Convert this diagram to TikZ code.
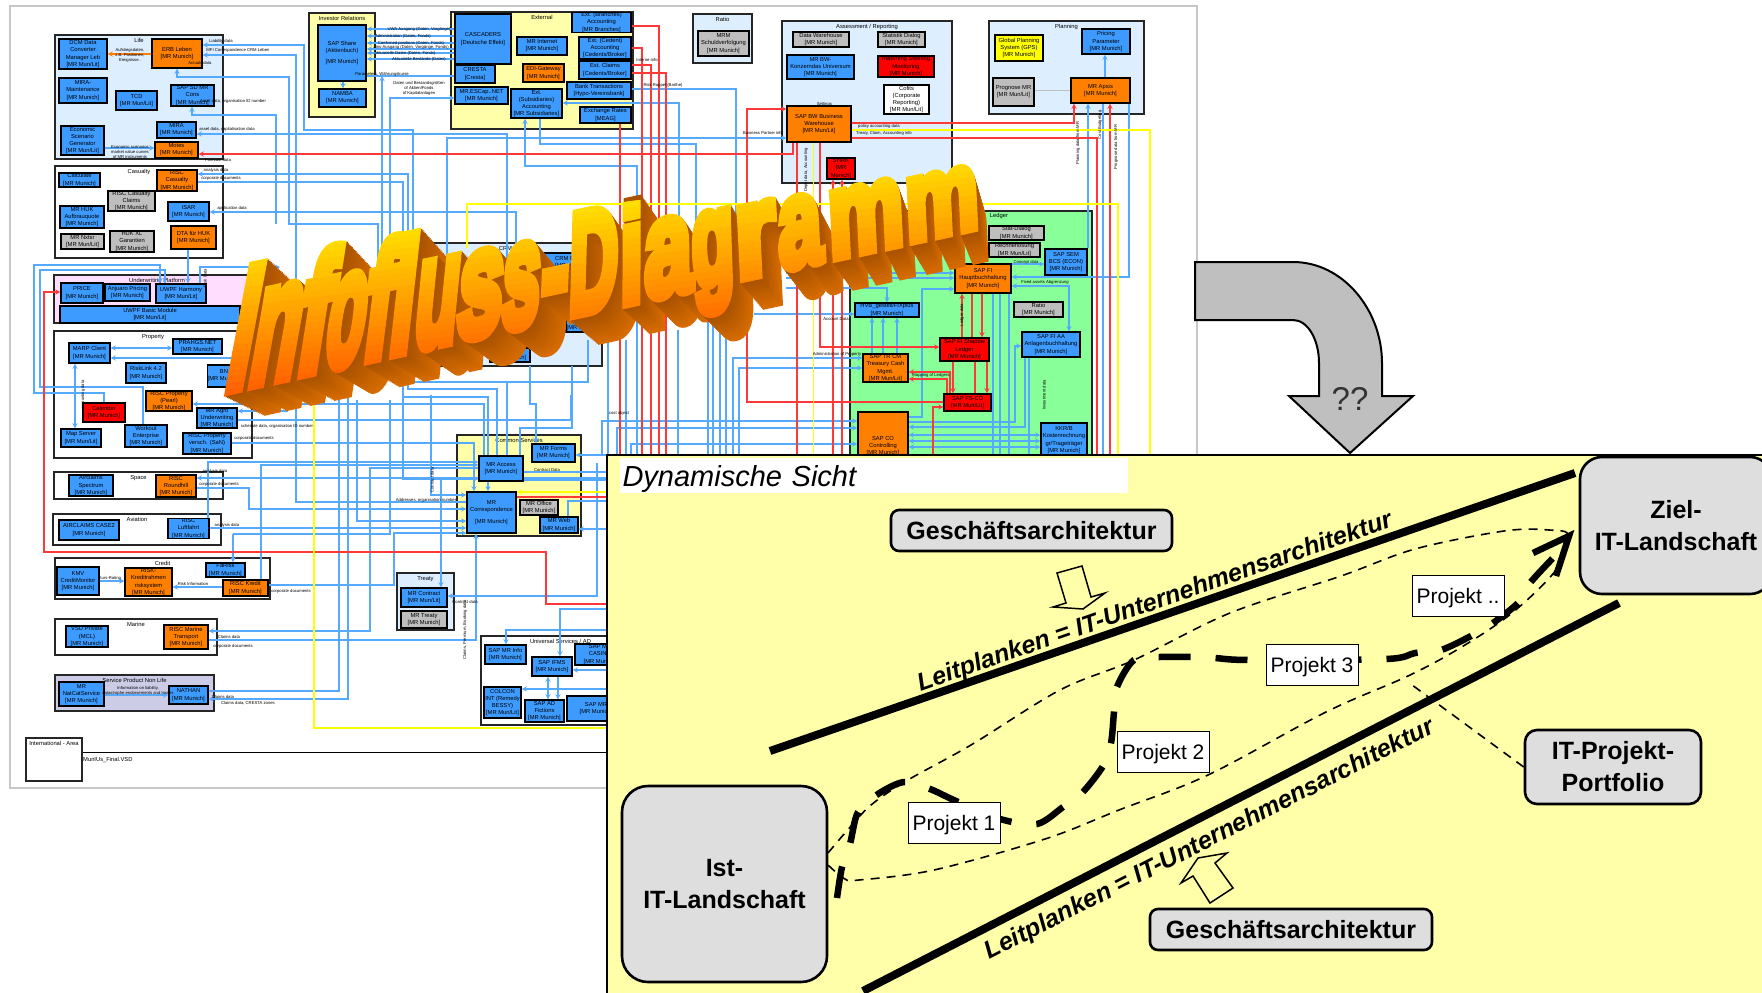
\documentclass[tikz,border=0pt]{standalone}
\usepackage{fontspec}
\setmainfont{Liberation Sans}
\newfontfamily\wordfont[BoldFeatures={FakeBold=8}]{Liberation Sans}
\usetikzlibrary{arrows,arrows.meta}

\definecolor{sysblue}{HTML}{3D9BFF}
\definecolor{sysorange}{HTML}{FF8000}
\definecolor{sysred}{HTML}{FF0000}
\definecolor{sysgray}{HTML}{BEBEBE}
\definecolor{sysyellow}{HTML}{FFFF00}
\definecolor{grpblue}{HTML}{DDEEFF}
\definecolor{grpyellow}{HTML}{FFFFAA}
\definecolor{grppink}{HTML}{FFDDFF}
\definecolor{grpgreen}{HTML}{88FF99}
\definecolor{grpviolet}{HTML}{CCCCE6}
\definecolor{wireblue}{HTML}{55AAFF}
\definecolor{wirered}{HTML}{FF3838}
\definecolor{sidefront}{HTML}{A85200}
\definecolor{sideback}{HTML}{D86C00}
\definecolor{facetop}{HTML}{FFDD00}
\definecolor{facebot}{HTML}{FF5C00}

\pgfdeclarelayer{groups}
\pgfdeclarelayer{wires}
\pgfsetlayers{groups,wires,main}

\tikzset{
    glyph/.style={inner sep=0,outer sep=0,anchor=base west,transform shape,
        font=\wordfont\bfseries\fontsize{100}{100}\selectfont}
}

% letter / left edge / width / advance of the font
\def\wordletters{I/223/23/.278,n/246/47/.611,f/293/30/.333,o/322/38/.611,f/360/27/.333,l/387/23/.278,u/412/43/.611,s/455/45/.556,s/500/38/.556,-/540/27/.333,D/568/49/.722,i/620/23/.278,a/645/47/.556,g/693/42/.611,r/737/40/.389,a/780/43/.556,m/830/75/.889,m/907/73/.889}

\newcommand{\wordlayer}[3]{%
    \foreach \ch/\lx/\lw/\la [count=\li] in \wordletters {
        \pgfmathsetmacro\lsz{(175-.089*(\lx-223))/100*(1-.1*#1)}
        \pgfmathsetmacro\lsx{\lw/(\la*100)*(1-.1*#1)}
        \pgfmathsetmacro\lsb{\lsx*.216}
        \pgfmathsetmacro\lsl{max(.19*(1-(\lx-223)/400),-.05)*\lsz}
        \pgfmathsetmacro\ltx{\lx+#1*(40-(\lx-223)/752*25)}
        \pgfmathsetmacro\lty{390-.216*(\lx-223)+#1*(20+(\lx-223)/752*10)}
        \node[glyph,text=#2,cm={\lsx,\lsb,\lsl,\lsz,(\ltx,\lty)}] (g#3-\li) at (0,0) {\ch};
    }%
}

\newcommand{\sysbox}[7]{%
    \pgfmathsetmacro\bw{#5-#3}\pgfmathsetmacro\bh{#6-#4}
    \node[#1,minimum width=\bw pt,minimum height=\bh pt] (#2) at ({(#3+#5)/2},{(#4+#6)/2}) {#7};
}
\newcommand{\groupbox}[7]{%
    \pgfmathsetmacro\bw{#5-#3}\pgfmathsetmacro\bh{#6-#4}
    \node[grp,fill=#1,minimum width=\bw pt,minimum height=\bh pt,
        label={[name=#2-title,grptitle]north:#7}] (#2) at ({(#3+#5)/2},{(#4+#6)/2}) {};
}

\begin{document}
\begin{tikzpicture}[
        x=1pt,y=-1pt,
        >=stealth, % arrow head style
        font=\fontsize{5.8}{7.2}\selectfont]

        \tikzset{
            sys/.style={draw=black,line width=1.3pt,inner sep=0,align=center,text=black},
            boxblue/.style={sys,fill=sysblue},
            boxorange/.style={sys,fill=sysorange},
            boxred/.style={sys,fill=sysred},
            boxgray/.style={sys,fill=sysgray},
            boxyellow/.style={sys,fill=sysyellow},
            boxwhite/.style={sys,fill=white},
            grp/.style={draw=black!85,line width=1.2pt,inner sep=0},
            grptitle/.style={inner sep=0,yshift=-3.5pt,anchor=north,font=\fontsize{5.8}{7}\selectfont},
            wire/.style={draw=wireblue,line width=1.3pt},
            redwire/.style={draw=wirered,line width=1.3pt},
            yelwire/.style={draw=sysyellow,line width=1.3pt},
            lab/.style={inner sep=0,align=center,font=\fontsize{4.2}{5}\selectfont},
            darkbox/.style={draw=black,fill=black!13,line width=2.6pt,rounded corners=#1,align=center,
                font=\bfseries\fontsize{25}{30}\selectfont},
            darkbox/.default=8pt,
            project/.style={draw=black,fill=white,line width=.8pt,inner sep=0,text height=17pt,text depth=2pt,
                minimum width=92pt,minimum height=41pt,font=\fontsize{21}{25}\selectfont},
            rail/.style={draw=black,line width=8pt},
            raillabel/.style={inner sep=0,font=\bfseries\itshape\fontsize{25}{30}\selectfont},
            hollow/.style={draw=black,line width=1.5pt,line join=miter}
        }

        \clip (0,0) rectangle (1762,993);

        % groups
        \begin{pgfonlayer}{groups}
        \fill[white] (0,0) rectangle (1762,993);
        \node[draw=black!22,line width=2pt,minimum width=1187pt,minimum height=782pt,inner sep=0] (sheet) at (603.5,397) {};
        \groupbox{grpblue}{life}{55}{35}{223}{159}{Life}
        \groupbox{white}{casualty}{55}{166}{223}{258}{Casualty}
        \groupbox{grppink}{platform}{54}{275}{260}{323}{Underwriting Platform}
        \groupbox{white}{property}{54}{331}{252}{458}{Property}
        \groupbox{white}{space}{54}{472}{223}{499}{Space}
        \groupbox{white}{aviation}{53}{514}{221}{545}{Aviation}
        \groupbox{white}{credit}{55}{558}{270}{599}{Credit}
        \groupbox{white}{marine}{55}{619}{217}{655}{Marine}
        \groupbox{grpviolet}{service}{55}{675}{214}{711}{Service Product Non Life}
        \groupbox{white}{intl}{26}{738}{82}{781}{International - Area}
        \groupbox{grpyellow}{investor}{309}{13}{375}{117}{Investor Relations}
        \groupbox{grpyellow}{external}{451}{12}{633}{129}{External}
        \groupbox{grpblue}{ratio}{693}{14}{752}{63}{Ratio}
        \groupbox{grpblue}{assess}{782}{21}{952}{183}{Assessment / Reporting}
        \groupbox{grpblue}{planning}{989}{21}{1144}{114}{Planning}
        \groupbox{grpgreen}{ledger}{850}{211}{1092}{480}{}
        \groupbox{grpblue}{crm}{433}{243}{602}{366}{CRM - Partner}
        \groupbox{grpyellow}{common}{457}{435}{581}{536}{Common Services}
        \groupbox{grpblue}{treaty}{397}{573}{454}{630}{Treaty}
        \groupbox{white}{univ}{481}{636}{640}{725}{Universal Services / AD}
        \node[inner sep=0] (ledger-name) at (999,216) {Ledger};
        \node[inner sep=0,anchor=west] (vsdname) at (83,760) {MunIUs\_Final.VSD};
        \coordinate (ruleend) at (607,752);
        \draw[black,line width=1pt] (intl.east |- ruleend) -- (ruleend);
        \end{pgfonlayer}

        % the boxes
        \sysbox{boxblue}{dcm}{59}{39}{107}{69}{DCM Data\\Converter\\Manager Leb\\{[MR Mun/Lit]}}
        \sysbox{boxorange}{erb}{152}{39}{202}{68}{ERB Leben\\{[MR Munich]}}
        \sysbox{boxblue}{maint}{59}{78}{107}{103}{MIRA-\\Maintenance\\{[MR Munich]}}
        \sysbox{boxblue}{tcd}{116}{91}{157}{110}{TCD\\{[MR Mun/Lit]}}
        \sysbox{boxblue}{sapsd}{171}{85}{214}{106}{SAP SD MR\\Cons\\{[MR Munich]}}
        \sysbox{boxblue}{econ}{61}{126}{104}{155}{Economic\\Scenario\\Generator\\{[MR Mun/Lit]}}
        \sysbox{boxblue}{mira}{157}{122}{196}{138}{MIRA\\{[MR Munich]}}
        \sysbox{boxorange}{motes}{155}{142}{198}{158}{Motes\\{[MR Munich]}}
        \sysbox{boxblue}{calc}{59}{173}{100}{187}{Calculate\\{[MR Munich]}}
        \sysbox{boxorange}{rcas}{157}{170}{197}{191}{RISC\\Casualty\\{[MR Munich]}}
        \sysbox{boxgray}{rcl}{108}{191}{155}{211}{RISC Casualty\\Claims\\{[MR Munich]}}
        \sysbox{boxblue}{isar}{168}{202}{209}{221}{ISAR\\{[MR Munich]}}
        \sysbox{boxblue}{huk}{60}{206}{104}{228}{MR HUK\\Aufbrauquote\\{[MR Munich]}}
        \sysbox{boxgray}{nxt}{61}{234}{104}{249}{MR Nxtsr\\{[MR Mun/Lit]}}
        \sysbox{boxgray}{hukxl}{110}{231}{154}{252}{HUK XL\\Garantien\\{[MR Munich]}}
        \sysbox{boxorange}{dta}{171}{226}{216}{249}{DTA f\"ur HUK\\{[MR Munich]}}
        \sysbox{boxblue}{price}{61}{283}{103}{303}{PRICE\\{[MR Munich]}}
        \sysbox{boxblue}{anj}{105}{284}{150}{301}{Anjuaro Pricing\\{[MR Munich]}}
        \sysbox{boxblue}{harm}{156}{284}{206}{303}{UWPF Harmony\\{[MR Mun/Lit]}}
        \sysbox{boxblue}{basic}{60}{306}{240}{323}{UWPF Basic Module\\{[MR Mun/Lit]}}
        \sysbox{boxblue}{marp}{69}{343}{110}{363}{MARP Client\\{[MR Munich]}}
        \sysbox{boxblue}{prah}{173}{339}{222}{354}{PRAHGS.NET\\{[MR Munich]}}
        \sysbox{boxblue}{risk}{126}{363}{166}{383}{RiskLink 4.2\\{[MR Munich]}}
        \sysbox{boxblue}{bn}{208}{365}{240}{387}{BN\\{[MR Munich]}}
        \sysbox{boxorange}{rprop}{146}{391}{192}{411}{RISC Property\\(Pearl)\\{[MR Munich]}}
        \sysbox{boxblue}{agro}{197}{408}{237}{428}{MR Agro\\Underwriting\\{[MR Munich]}}
        \sysbox{boxred}{cal}{83}{403}{125}{422}{Calender\\{[MR Munich]}}
        \sysbox{boxblue}{map}{61}{429}{101}{447}{Map Server\\{[MR Mun/Lit]}}
        \sysbox{boxblue}{work}{125}{425}{167}{447}{Workout\\Enterprise\\{[MR Munich]}}
        \sysbox{boxblue}{rver}{183}{433}{231}{454}{RISC Property\\versch. (SaN)\\{[MR Munich]}}
        \sysbox{boxblue}{air}{69}{475}{113}{496}{Airclaims\\Spectrum\\{[MR Munich]}}
        \sysbox{boxorange}{rrh}{156}{475}{196}{497}{RISC\\Roundhill\\{[MR Munich]}}
        \sysbox{boxblue}{aclaims}{59}{520}{119}{540}{AIRCLAIMS CASE2\\{[MR Munich]}}
        \sysbox{boxblue}{rluf}{168}{519}{209}{538}{RISC\\Luftfahrt\\{[MR Munich]}}
        \sysbox{boxblue}{kmv}{57}{567}{99}{595}{KMV\\CreditMonitor\\{[MR Munich]}}
        \sysbox{boxorange}{rkr}{125}{568}{172}{596}{RISK-\\Kreditrahmen\\risksystem\\{[MR Munich]}}
        \sysbox{boxblue}{faris}{206}{563}{245}{577}{FaRisk\\{[MR Munich]}}
        \sysbox{boxorange}{rkred}{223}{580}{268}{596}{RISC Kredit\\{[MR Munich]}}
        \sysbox{boxblue}{vsu}{66}{626}{108}{647}{VSU Private\\(MCL)\\{[MR Munich]}}
        \sysbox{boxorange}{rmar}{164}{625}{208}{649}{RISC Marine\\Transport\\{[MR Munich]}}
        \sysbox{boxblue}{natcat}{59}{682}{104}{706}{MR\\NatCatService\\{[MR Munich]}}
        \sysbox{boxblue}{nathan}{169}{686}{208}{704}{NATHAN\\{[MR Munich]}}
        \sysbox{boxblue}{share}{318}{25}{366}{81}{SAP Share\\(Aktienbuch)\\[3pt]{[MR Munich]}}
        \sysbox{boxblue}{namba}{319}{89}{366}{107}{NAMBA\\{[MR Munich]}}
        \sysbox{boxblue}{casc}{455}{14}{511}{64}{CASCADERS\\{[Deutsche Effekt]}}
        \sysbox{boxblue}{exb}{572}{13}{631}{32}{Ext. (Branches)\\Accounting\\{[MR Branches]}}
        \sysbox{boxblue}{mrint}{517}{37}{567}{55}{MR Internet\\{[MR Munich]}}
        \sysbox{boxblue}{exc}{579}{37}{631}{59}{Ext. (Cedent)\\Accounting\\{[Cedents/Broker]}}
        \sysbox{boxblue}{cresta}{455}{65}{495}{83}{CRESTA\\{[Cresta]}}
        \sysbox{boxorange}{edi}{523}{64}{564}{82}{EDI-Gateway\\{[MR Munich]}}
        \sysbox{boxblue}{excl}{579}{61}{631}{79}{Ext. Claims\\{[Cedents/Broker]}}
        \sysbox{boxblue}{bank}{567}{82}{631}{99}{Bank Transactions\\{[Hypo-Vereinsbank]}}
        \sysbox{boxblue}{esc}{455}{87}{508}{104}{MR.ESCap..NET\\{[MR Munich]}}
        \sysbox{boxblue}{exs}{511}{89}{562}{118}{Ext.\\(Subsidiaries)\\Accounting\\{[MR Subsidiaries]}}
        \sysbox{boxblue}{xrate}{580}{107}{631}{123}{Exchange Rates\\{[MEAG]}}
        \sysbox{boxgray}{mrm}{698}{31}{749}{56}{MRM\\Schuldverfolgung\\{[MR Munich]}}
        \sysbox{boxgray}{dw}{793}{32}{849}{47}{Data Warehouse\\{[MR Munich]}}
        \sysbox{boxgray}{stat}{878}{32}{925}{47}{Statistik Dialog\\{[MR Munich]}}
        \sysbox{boxblue}{bwk}{787}{55}{854}{79}{MR BW-\\Konzerndas Universum\\{[MR Munich]}}
        \sysbox{boxred}{rep}{878}{56}{934}{77}{Reporting Steering\\Monitoring\\{[MR Munich]}}
        \sysbox{boxwhite}{cof}{884}{85}{929}{114}{Cofits\\(Corporate\\Reporting)\\{[MR Mun/Lit]}}
        \sysbox{boxorange}{bw}{787}{106}{851}{142}{SAP BW Business\\Warehouse\\{[MR Mun/Lit]}}
        \sysbox{boxred}{shirk}{827}{158}{855}{179}{SHRK\\{[MR}\\{Munich]}}
        \sysbox{boxyellow}{gps}{995}{35}{1043}{61}{Global Planning\\System (GPS)\\{[MR Munich]}}
        \sysbox{boxblue}{pric}{1082}{29}{1130}{54}{Pricing\\Parameter\\{[MR Munich]}}
        \sysbox{boxgray}{prog}{993}{78}{1034}{106}{Prognose MR\\{[MR Mun/Lit]}}
        \sysbox{boxorange}{apsis}{1071}{78}{1130}{103}{MR Apsis\\{[MR Munich]}}
        \sysbox{boxgray}{sdlg}{989}{226}{1044}{240}{Stat-Dialog\\{[MR Munich]}}
        \sysbox{boxgray}{recn}{989}{243}{1040}{257}{Rechnerl\"osung\\{[MR Mun/Lit]}}
        \sysbox{boxblue}{sem}{1045}{249}{1087}{275}{SAP SEM\\BCS (ECON)\\{[MR Munich]}}
        \sysbox{boxorange}{fi}{955}{264}{1011}{293}{SAP FI\\Hauptbuchhaltung\\{[MR Munich]}}
        \sysbox{boxgray}{ratiob}{1014}{302}{1063}{317}{Ratio\\{[MR Munich]}}
        \sysbox{boxblue}{hvb}{855}{303}{919}{317}{HVB\_gestell/FIXplus\\{[MR Munich]}}
        \sysbox{boxblue}{aa}{1022}{332}{1080}{357}{SAP FI AA\\Anlagenbuchhaltung\\{[MR Munich]}}
        \sysbox{boxred}{sl}{940}{338}{989}{361}{SAP FI Shadow\\Ledger\\{[MR Munich]}}
        \sysbox{boxorange}{tr}{863}{354}{908}{382}{SAP TR CM\\Treasury Cash\\Mgmt.\\{[MR Mun/Lit]}}
        \sysbox{boxred}{fscd}{944}{394}{991}{411}{SAP FS-CD\\{[MR Mun/Lit]}}
        \sysbox{boxorange}{co}{858}{412}{908}{480}{SAP CO\\Controlling\\{[MR Munich]}}
        \sysbox{boxblue}{kkr}{1041}{423}{1087}{457}{KKR/B\\Kostenrechnung\\gr/Tragetr\"ager\\{[MR Munich]}}
        \sysbox{boxblue}{crma}{543}{253}{600}{272}{CRM Manag\\{[MR Munich]}}
        \sysbox{boxblue}{crmb}{566}{316}{600}{332}{CRM\\{[MR Munich]}}
        \sysbox{boxblue}{crmc}{490}{348}{530}{362}{MR\\{[MR Munich]}}
        \sysbox{boxblue}{acc}{479}{456}{523}{481}{MR Access\\{[MR Munich]}}
        \sysbox{boxblue}{forms}{532}{444}{575}{462}{MR Forms\\{[MR Munich]}}
        \sysbox{boxblue}{corr}{467}{492}{516}{533}{MR\\Correspondence\\[5pt]{[MR Munich]}}
        \sysbox{boxgray}{off}{520}{500}{558}{515}{MR Office\\{[MR Munich]}}
        \sysbox{boxblue}{web}{540}{517}{578}{533}{MR Web\\{[MR Munich]}}
        \sysbox{boxblue}{ctr}{401}{588}{447}{607}{MR Contract\\{[MR Mun/Lit]}}
        \sysbox{boxgray}{tty}{401}{611}{447}{628}{MR Treaty\\{[MR Munich]}}
        \sysbox{boxblue}{sapinf}{485}{645}{526}{664}{SAP MR Info\\{[MR Munich]}}
        \sysbox{boxblue}{ifms}{532}{657}{572}{676}{SAP IFMS\\{[MR Munich]}}
        \sysbox{boxblue}{casino}{575}{644}{625}{665}{SAP MR\\CASINO\\{[MR Munich]}}
        \sysbox{boxblue}{colcon}{484}{687}{521}{718}{COLCON\\INT (Remedy\\BESSY)\\{[MR Mun/Lit]}}
        \sysbox{boxblue}{adf}{525}{700}{564}{722}{SAP AD\\Fictions\\{[MR Munich]}}
        \sysbox{boxblue}{mrd}{567}{696}{625}{721}{SAP MR\\{[MR Munich]}}

        \begin{pgfonlayer}{wires}
        % blue wires
        \draw[wire,<-] (erb.east |- 0,45) -- (304,45) -- (304,130) -- (413,130) -- (413,382) -- (507,382) -- (507,0 |- acc.north);
        \draw[wire,<-] (erb.east |- 0,55) -- (296,55) -- (296,502) -- (corr.west |- 0,502);
        \draw[wire,<-] (erb.south -| 177,0) -- (177,77) -- (289,77) -- (289,224) -- (378,224) -- (378,260);
        \draw[wire,<-] (sapsd.south -| 192,0) -- (192,115) -- (276,115) -- (276,224);
        \draw[wire,<-] (mira.east |- 0,134) -- (507,134) -- (507,260);
        \draw[wire,->] (447,260) -- (447,138) -- (bw.west |- 0,138);
        \draw[wire,<-] (rcas.east |- 0,174) -- (408,174) -- (408,389) -- (497,389) -- (497,0 |- acc.north);
        \draw[wire,->] (rcas.east |- 0,182) -- (403,182) -- (403,397) -- (488,397) -- (488,0 |- corr.north);
        \draw[wire,<-] (isar.east |- 0,212) -- (516,212) -- (516,260);
        \foreach \wy in {29,36,43,49,53,59}
            \draw[wire,<-] (share.east |- 0,\wy) -- (casc.west |- 0,\wy);
        \draw[wire] (share.east |- 0,76) -- (cresta.west |- 0,76);
        \draw[wire,->] (382,260) -- (382,76);
        \draw[wire,->] (390,260) -- (390,98) -- (esc.west |- 0,98);
        \draw[wire,->] (share.south -| 343,0) -- (namba.north -| 343,0);
        \draw[wire,<-] (exs.south -| 525,0) -- (525,166) -- (637,166) -- (637,455);
        \draw[wire] (exs.south -| 540,0) -- (540,144) -- (696,144) -- (696,230);
        \draw[wire] (bank.east |- 0,89) -- (736,89) -- (736,230);
        \draw[wire,<-] (exs.east |- 0,103) -- (679,103) -- (679,240);
        \foreach \wx/\wy in {678/330,708/310,713/310,720/310,726/310,626/340,608/340}
            \draw[wire] (\wx,\wy) -- (\wx,455);
        \draw[wire,->] (754,314) -- (hvb.west |- 0,314);
        \draw[wire,<-] (tr.west |- 0,358) -- (733,358) -- (733,455);
        \draw[wire,<-] (tr.west |- 0,368) -- (739,368) -- (739,455);
        \draw[wire,->] (602,455) -- (602,421) -- (co.west |- 0,421);
        \draw[wire,->] (617,455) -- (617,428) -- (co.west |- 0,428);
        \draw[wire,->] (631,455) -- (631,444) -- (co.west |- 0,444);
        \draw[wire,<-] (fi.west |- 0,289) -- (922,289) -- (922,417) -- (co.east |- 0,417);
        \draw[wire,->] (786,288) -- (887,288) -- (hvb.north -| 887,0);
        \draw[wire,->] (tr.north -| 872,0) -- (hvb.south -| 872,0);
        \draw[wire,->] (tr.north -| 883,0) -- (hvb.south -| 883,0);
        \draw[wire,->] (tr.north -| 897,0) -- (hvb.south -| 897,0);
        \draw[wire,->] (786,273) -- (fi.west |- 0,273);
        \draw[wire,->] (786,278) -- (fi.west |- 0,278);
        \draw[wire,->] (fi.east |- 0,264) -- (sem.west |- 0,264);
        \draw[wire,<-] (fi.east |- 0,277) -- (1129,277) -- (apsis.south -| 1129,0);
        \draw[wire,->] (sem.north -| 1088,0) -- (apsis.south -| 1088,0);
        \draw[wire] (apsis.south -| 1103,0) -- (1103,480);
        \draw[wire,->] (apsis.north -| 1105,0) -- (pric.south -| 1105,0);
        \draw[wire,<->] (fi.east |- 0,286) -- (1069,286) -- (aa.north -| 1069,0);
        \draw[wire] (fi.south -| 993,0) -- (993,480);
        \draw[wire] (fi.south -| 1000,0) -- (1000,480);
        \draw[wire] (fi.south -| 1009,0) -- (1009,480);
        \draw[wire,<-] (aa.west |- 0,346) -- (1015,346) -- (1015,422) -- (co.east |- 0,422);
        \draw[wire,->] (aa.south -| 1025,0) -- (1025,427) -- (co.east |- 0,427);
        \draw[wire] (aa.south -| 1029,0) -- (1029,480);
        \foreach \wy in {435,441,447}
            \draw[wire,<->] (co.east |- 0,\wy) -- (kkr.west |- 0,\wy);
        \draw[wire,<-] (harm.north -| 160,0) -- (160,265) -- (34,265) -- (34,393) -- (104,393) -- (cal.north -| 104,0);
        \draw[wire] (harm.north -| 165,0) -- (165,270) -- (40,270) -- (40,387) -- (143,387) -- (work.north -| 143,0);
        \draw[wire,->] (dta.south -| 188,0) -- (harm.north -| 188,0);
        \draw[wire,->] (harm.north -| 200,0) -- (200,267) -- (280,267);
        \draw[wire,<->] (marp.south -| 75,0) -- (map.north -| 75,0);
        \draw[wire,<->] (marp.east |- 0,348) -- (prah.west |- 0,348);
        \draw[wire,<-] (marp.east |- 0,358) -- (240,358);
        \draw[wire,<-] (rprop.east |- 0,404) -- (484,404) -- (484,0 |- acc.north);
        \draw[wire,<-] (agro.east |- 0,411) -- (287,411) -- (287,405);
        \draw[wire] (agro.east |- 0,420) -- (571,420) -- (571,395);
        \draw[wire,->] (rver.east |- 0,443) -- (474,443) -- (474,0 |- corr.north);
        \draw[wire,->] (rluf.north -| 208,0) -- (208,462) -- (acc.west |- 0,462);
        \draw[wire,->] (rkred.north -| 261,0) -- (261,465) -- (acc.west |- 0,465);
        \draw[wire,<-] (rmar.east |- 0,631) -- (370,631) -- (370,468) -- (acc.west |- 0,468);
        \draw[wire,<-] (rrh.east |- 0,478) -- (607,478);
        \draw[wire,->] (rrh.east |- 0,488) -- (249,488) -- (249,509) -- (corr.west |- 0,509);
        \draw[wire,->] (rluf.east |- 0,528) -- (corr.west |- 0,528);
        \draw[wire,->] (233,534) -- (233,0 |- faris.north);
        \draw[wire] (233,534) -- (390,534) -- (390,400);
        \draw[wire,->] (357,400) -- (357,521) -- (corr.west |- 0,521);
        \draw[wire] (nathan.east |- 0,691) -- (339,691) -- (339,395);
        \draw[wire,<-] (nathan.east |- 0,699) -- (348,699) -- (348,395);
        \draw[wire,->] (rmar.east |- 0,640) -- (476,640) -- (476,0 |- corr.south);
        \draw[wire,->] (rkred.east |- 0,585) -- (394,585) -- (394,533) -- (corr.west |- 0,533);
        \draw[wire,<-] (ctr.east |- 0,596) -- (597,596) -- (597,463);
        \draw[wire,<-] (ctr.north -| 441,0) -- (441,478);
        \draw[wire] (acc.east |- 0,480) -- (607,480);
        \draw[wire] (acc.east |- 0,472) -- (607,472);
        \draw[wire,<-] (forms.east |- 0,455) -- (607,455);
        \draw[wire,<-] (forms.north -| 536,0) -- (536,404) -- (530,404) -- (530,366);
        \draw[wire] (acc.east |- 0,466) -- (520,466) -- (520,428) -- (572,428) -- (572,366);
        \draw[wire] (423,382) -- (588,382) -- (588,340);
        \draw[wire,->] (403,395) -- (403,479) -- (acc.west |- 0,479);
        \draw[wire,->] (431,395) -- (431,495) -- (corr.west |- 0,495);
        \draw[wire] (web.west |- 0,522) -- (568,522) -- (568,501) -- (607,501);
        \draw[wire,<-] (web.east |- 0,529) -- (607,529);
        \draw[wire,<-] (sapinf.north -| 506,0) -- (506,630) -- (607,630);
        \draw[wire,<-] (ifms.north -| 560,0) -- (560,609) -- (607,609);
        \draw[wire,<-] (ifms.east |- 0,670) -- (607,670);
        \draw[wire,<-] (colcon.east |- 0,689) -- (607,689);
        \draw[wire,<->] (ifms.south -| 548,0) -- (adf.north -| 548,0);
        \draw[wire,->] (ifms.south -| 558,0) -- (adf.north -| 558,0);
        \draw[wire,->] (econ.east |- 0,148) -- (motes.west |- 0,148);
        \draw[wire,->] (kmv.east |- 0,581) -- (rkr.west |- 0,581);
        \draw[wire,->] (natcat.east |- 0,695) -- (nathan.west |- 0,695);
        \draw[wire,<-] (rkr.east |- 0,587) -- (rkred.west |- 0,587);
        \draw[draw=sysorange,line width=1.3pt,->] (erb.west |- 0,54) -- (dcm.east |- 0,54);
        \draw[draw=black!25,line width=1pt] (prog.east |- 0,90) -- (apsis.west |- 0,90);

        % red wires
        \draw[redwire,<-] (motes.east |- 0,154) -- (793,154) -- (bw.south -| 793,0);
        \draw[redwire] (exb.east |- 0,26) -- (659,26) -- (659,455);
        \draw[redwire] (exc.east |- 0,48) -- (642,48) -- (642,455);
        \draw[redwire] (excl.east |- 0,65) -- (651,65) -- (651,455);
        \draw[redwire] (excl.east |- 0,73) -- (666,73) -- (666,455);
        \draw[redwire] (xrate.south -| 620,0) -- (620,455);
        \draw[redwire] (bw.south -| 797,0) -- (797,455);
        \draw[redwire,->] (bw.south -| 820,0) -- (820,347) -- (sl.west |- 0,347);
        \draw[redwire,<-] (shirk.south -| 833,0) -- (833,455);
        \draw[redwire,<-] (shirk.south -| 842,0) -- (842,455);
        \draw[redwire,<-] (bw.west |- 0,109) -- (747,109) -- (747,402) -- (fscd.west |- 0,402);
        \draw[redwire,->] (bw.east |- 0,123) -- (1074,123) -- (apsis.south -| 1074,0);
        \draw[redwire] (bw.east |- 0,138) -- (1097,138) -- (1097,480);
        \draw[redwire,<-] (apsis.south -| 1110,0) -- (1110,480);
        \draw[redwire,<-] (fi.south -| 962,0) -- (sl.north -| 962,0);
        \draw[redwire] (fi.south -| 972,0) -- (sl.north -| 972,0);
        \draw[redwire,->] (fi.south -| 982,0) -- (sl.north -| 982,0);
        \draw[redwire,->] (sl.south -| 953,0) -- (fscd.north -| 953,0);
        \draw[redwire] (sl.south -| 975,0) -- (fscd.north -| 975,0);
        \draw[redwire,->] (sl.south -| 987,0) -- (fscd.north -| 987,0);
        \draw[redwire,<-] (tr.east |- 0,372) -- (950,372) -- (fscd.north -| 950,0);
        \draw[redwire,<-] (tr.east |- 0,379) -- (947,379) -- (fscd.north -| 947,0);
        \draw[redwire,<-] (fscd.west |- 0,407) -- (933,407) -- (933,480);
        \draw[redwire] (corr.east |- 0,497) -- (607,497);
        \draw[redwire,->] (607,604) -- (546,604) -- (546,552) -- (44,552) -- (44,292) -- (price.west |- 0,292);

        % yellow wires
        \draw[yelwire] (467,248) -- (467,204) -- (1118,204) -- (1118,480);
        \draw[yelwire] (bw.east |- 0,130) -- (1150,130) -- (1150,480);
        \draw[yelwire] (bw.south -| 813.5,0) -- (813.5,480);
        \draw[yelwire] (314,395) -- (314,728) -- (607,728);
        \draw[yelwire,<-] (corr.east |- 0,492) -- (607,492);
        \end{pgfonlayer}

        % wire labels
        \foreach \lx/\ly/\ltext [count=\li] in {
            221/41/Liability data,238/50/MFI Correspondence CRM Leben,200/63/Actuals data,
            130/55/{Aufstiegsdaten,\\z.B. Positionen,\\Ereignisse..},233/101/{Asset data, organisation ID number},
            227/129/{asset data, capitalisation data},130/152/{Economic scenarios\\market value curves\\of MR instruments},
            218/160/Forecast data,216/170/analysis data,221/178/corporate documents,232/208/application data,
            419/29/{UWA Ausgang (Daten, Vorg\"ange)},403/36/{Administration (Daten, Fonds)},
            411/43/{Confirmed positions (Daten, Fonds)},411/47/{Zins-Ausgang (Daten, Vorg\"ange, Fonds)},
            405/53/{Aktuarielle Daten (Daten, Fonds)},419/59/{Aktuarielle Best\"ande (Daten)},
            382/74/{Parameters, W\"ahrungskurse},419/88/{Daten und Bestandsgr\"o{\ss}en\\of Aktien/Fonds\\of Kapitalanlagen},
            647/60/Interne Info,663/85/{Risk Rappel (Barthe)},763/133/Business Partner info,825/104/Settings / Central Data,
            879/126/policy accounting data,884/133/{Treaty, Claim, Accounting info},836/319/Account Data,
            837/354/Administration of Property,619/413/cost object,931/375/Mapping of Ledgers,
            1026/262/Concept data,1045/282/Fixed assets Abgrenzung,
            277/426/{schedule data, organisation ID number},254/438/corporate documents,215/471/analysis data,
            219/484/corporate documents,227/525/analysis data,110/578/Kurs-Rating,193/584/Risk Information,
            291/591/corporate documents,229/637/Claims data,233/646/corporate documents,
            138/691/{Information on liability,\\catastrophe endorsements and losses},223/697/Claims data,
            248/703/{Claims data, CRESTA zones},465/602/Contract data,426/500/{Addresses, organisation number},
            547/470/Contract Data}
            \node[lab] (wl\li) at (\lx,\ly) {\ltext};
        \foreach \lx/\ly/\ltext [count=\li] in {
            806/170/{Depot data, Accounting},1078/143/{Planning data from MR},1116/147/{Prognose data from MR},
            1100/125/Cost Budgeting,962/315/{Ledger data},1044/395/{Investment data},432/480/{Contract data},
            465/630/{Claims, Premium, Booking data},205/278/{Risk Data},83/395/{accounting data}}
            \node[lab,rotate=90] (vl\li) at (\lx,\ly) {\ltext};

        % word art: the sides, back to front, then the lit face in bands
        \foreach \d in {26,25,...,1} {
            \pgfmathsetmacro\dt{\d/26}
            \pgfmathtruncatemacro\pct{100*\d/26}
            \wordlayer{\dt}{sideback!\pct!sidefront}{\d}
        }
        \foreach \s in {0,...,23} {
            \pgfmathsetmacro\ya{205+6.25*\s}
            \pgfmathsetmacro\yb{\ya+6.75}
            \pgfmathtruncatemacro\pct{100-100*\s/23}
            \begin{scope}
                \clip (150,\ya+56.7) -- (1050,\ya-56.7) -- (1050,\yb-56.7) -- (150,\yb+56.7) -- cycle;
                \wordlayer{0}{facetop!\pct!facebot}{f\s}
            \end{scope}
        }

        % grey arrow
        \filldraw[fill=black!25,draw=black,line width=2pt,line join=miter] (1195,262) -- (1293,262)
            .. controls (1343,262) and (1382,310) .. (1382,363) -- (1382,396) -- (1413,396) -- (1350,453)
            -- (1289,396) -- (1319,396) -- (1319,363) .. controls (1319,340) and (1308,320) .. (1293,320)
            -- (1195,320) -- cycle;
        \node[inner sep=0,text=black!80,font=\fontsize{33}{36}\selectfont] (question) at (1350,399) {??};

        % the panel
        \node[draw=black,fill=grpyellow,line width=2.5pt,minimum width=1173pt,minimum height=545pt,inner sep=0] (panel) at (1193.5,727.5) {};
        \node[fill=white,inner sep=0,minimum width=508pt,minimum height=35pt,text width=503pt,align=left,
            text height=24pt,text depth=3pt,font=\itshape\fontsize{29}{33}\selectfont] (dyn) at (874,475.5) {Dynamische Sicht};

        \node[darkbox,minimum width=281pt,minimum height=41pt,inner sep=0] (gaTop) at (1031.5,530.5) {Gesch\"aftsarchitektur};
        \node[darkbox,minimum width=282pt,minimum height=41pt,inner sep=0] (gaBot) at (1291,929.5) {Gesch\"aftsarchitektur};
        \node[darkbox=22pt,minimum width=192pt,minimum height=137pt,inner sep=0] (ziel) at (1676,525.5) {Ziel-\\[2pt]IT-Landschaft};
        \node[darkbox=26pt,minimum width=205pt,minimum height=196pt,inner sep=0] (ist) at (724.5,884) {Ist-\\[2pt]IT-Landschaft};
        \node[darkbox=12pt,minimum width=176pt,minimum height=74pt,inner sep=0] (port) at (1613,767) {IT-Projekt-\\[2pt]Portfolio};

        \coordinate (railAa) at (770,751);
        \coordinate (railAb) at (1575,473);
        \coordinate (railBa) at (863,991);
        \coordinate (railBb) at (1619,603);
        \draw[rail] (railAa) -- (railAb);
        \draw[rail] (railBa) -- (railBb);
        \node[raillabel,rotate=19.2] (railA) at (1155,603) {Leitplanken = IT-Unternehmensarchitektur};
        \node[raillabel,rotate=27] (railB) at (1210,840) {Leitplanken = IT-Unternehmensarchitektur};

        \draw[hollow] (1057,573) -- (1082,566) -- (1091,597) -- (1105,593) -- (1083,609) -- (1053,607) -- (1066,603) -- cycle;
        \draw[hollow] (1227,853) -- (1198,858) -- (1181,883) -- (1193,876) -- (1210,903) -- (1233,888) -- (1215,863) -- cycle;

        % thin loop and route
        \coordinate (loopA) at (828,853);
        \coordinate (loopB) at (828,865);
        \coordinate (zielIn) at (1569,536);
        \draw[black,line width=1.6pt,dash pattern=on 9pt off 7pt] plot[smooth,tension=.55] coordinates {
            (loopA) (845,833) (871,805) (908,780) (971,745) (1060,690) (1134,660) (1230,613) (1341,576)
            (1415,549) (1504,531) (1549,530) (zielIn) (1556,570) (1512,613) (1460,648) (1408,676)
            (1326,712) (1208,775) (1119,810) (1045,839) (934,870) (859,880) (845,879) (loopB)};
        \coordinate (routeIn) at (837,898);
        \draw[black,line width=6.5pt,dash pattern=on 32pt off 25pt] plot[smooth,tension=.5] coordinates {
            (routeIn) (842,867) (850,844) (858,812) (878,794) (904,782) (930,789) (956,801) (1000,819) (1037,824)
            (1063,807) (1082,793) (1103,766) (1111,743) (1114,712) (1117,687) (1134,660) (1160,657) (1191,657)
            (1215,658) (1249,660) (1386,659) (1415,653) (1441,650) (1471,636) (1493,623) (1519,602) (1530,583) (1553,558)};
        \draw[black,line width=6.5pt,line join=miter] (1533,553) -- (zielIn) -- (1556,576);
        \draw[black,line width=1.6pt,dash pattern=on 9pt off 7pt] (port.west) -- (1408,682);

        \node[project] (p1) at (954,823) {Projekt 1};
        \node[project] (p2) at (1163,751.5) {Projekt 2};
        \node[project] (p3) at (1312,664.5) {Projekt 3};
        \node[project] (pn) at (1458,595.5) {Projekt ..};
\end{tikzpicture}
\end{document}
